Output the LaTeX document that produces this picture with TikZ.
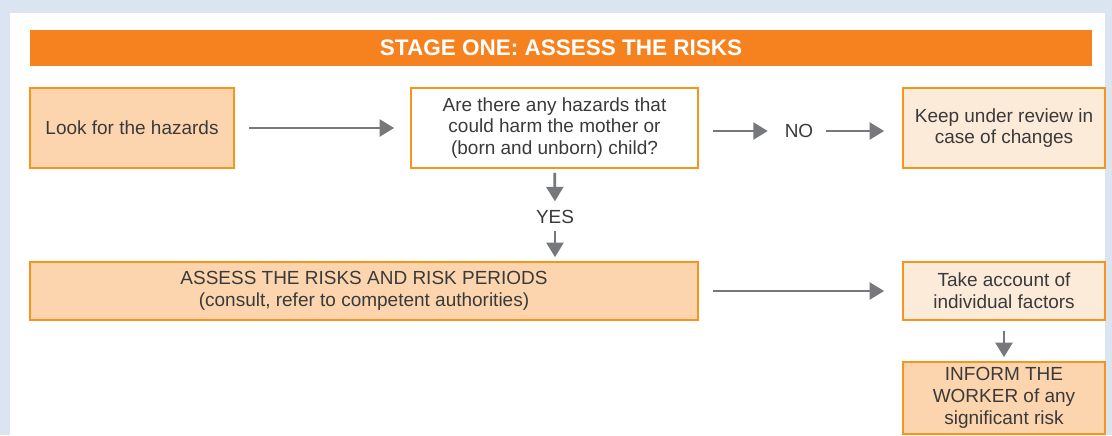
\documentclass[tikz,border=0pt]{standalone}
\usepackage{fontspec}
\setmainfont{Liberation Sans}
\usetikzlibrary{arrows.meta, positioning}
\definecolor{StageOrange}{HTML}{F5821F}
\definecolor{StageBorder}{HTML}{F7941D}
\definecolor{StagePeach}{HTML}{FCD5AE}
\definecolor{StageCream}{HTML}{FDEBDA}
\definecolor{StageGrey}{HTML}{77787B}
\definecolor{StageText}{HTML}{3A3A3A}
\definecolor{StageBack}{HTML}{DBE5F1}
\tikzset{
    % Default text
    every node/.style={font=\fontsize{13.5}{15.5}\selectfont, text=StageText},
    % Header bar
    header/.style={
        rectangle,
        fill=StageOrange,
        minimum width=26.55cm,
        minimum height=0.9cm,
        text=white,
        font=\fontsize{16}{18}\selectfont\bfseries
    },
    % Main step box
    stepbox/.style={
        rectangle,
        draw=StageBorder,
        line width=1.2pt,
        fill=StagePeach,
        minimum height=2cm,
        align=center,
        inner sep=2pt
    },
    % Question box
    question/.style={
        stepbox,
        fill=white
    },
    % Side box
    sidebox/.style={
        stepbox,
        fill=StageCream
    },
    % Arrow style
    arrow/.style={
        -{Triangle[length=0.36cm,width=0.42cm]},
        line width=1.9pt,
        draw=StageGrey
    }
}
\begin{document}
\begin{tikzpicture}[x=0.025cm, y=-0.025cm]
        % Page background
        \fill[StageBack] (0,0) rectangle (1112,435);
        \fill[white] (10,13) rectangle (1105,435);
        \useasboundingbox (0,0) rectangle (1112,435);

        % Header
        \node (title) [header] at (561,48) {STAGE ONE: ASSESS THE RISKS};

        % First row
        \node (look) [stepbox, minimum width=5.1cm] at (132,128) {Look for the hazards};
        \node (hazards) [question, minimum width=7.175cm] at (554.5,128) {Are there any hazards that\\could harm the mother or\\(born and unborn) child?};
        \node (no) at (799,131) {NO};
        \node (review) [sidebox, minimum width=5.05cm] at (1004,128) {Keep under review in\\case of changes};

        % Second row
        \node (yes) at (555,217) {YES};
        \node (assess) [stepbox, minimum width=16.7cm, minimum height=1.45cm] at (364,291) {ASSESS THE RISKS AND RISK PERIODS\\(consult, refer to competent authorities)};
        \node (factors) [sidebox, minimum width=5.05cm, minimum height=1.45cm] at (1004,291) {Take account of\\individual factors};
        \node (inform) [stepbox, minimum width=5.05cm, minimum height=1.8cm] at (1004,398) {INFORM THE\\WORKER of any\\significant risk};

        % Arrows
        \draw[arrow, shorten <=0.35cm, shorten >=0.4cm] (look) -- (hazards);
        \draw[arrow, shorten <=0.35cm, shorten >=0.3cm] (hazards.east |- no) -- (no);
        \draw[arrow, shorten <=0.2cm, shorten >=0.45cm] (no) -- (review.west |- no);
        \draw[arrow, shorten <=0.1cm, shorten >=0.1cm] (hazards) -- (yes);
        \draw[arrow, shorten <=0.05cm, shorten >=0.1cm] (yes) -- (assess.north -| yes);
        \draw[arrow, shorten <=0.35cm, shorten >=0.45cm] (assess) -- (factors);
        \draw[arrow, shorten <=0.25cm, shorten >=0.1cm] (factors) -- (inform);
\end{tikzpicture}
\end{document}
